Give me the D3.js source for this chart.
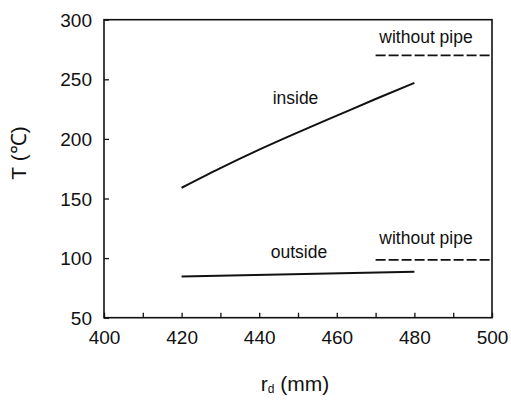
<!DOCTYPE html>
<html><head><meta charset="utf-8">
<script src="https://cdn.jsdelivr.net/npm/d3@7"></script>
<style>body{margin:0;background:#fff}svg{display:block}text{font-family:"Liberation Sans",Arial,sans-serif;fill:#111}</style>
</head><body><svg id="c" width="511" height="402"></svg>
<script>
const rdInside = [420, 430, 440, 450, 460, 470, 480];
const tInside = [159, 175.5, 191, 205.5, 219.5, 233.5, 247];
const rdOutside = [420, 480];
const tOutside = [84.5, 88.5];
const rdNoPipe = [470, 500];
const tNoPipeIn = [270, 270];
const tNoPipeOut = [98.5, 98.5];
const xTicks = [400, 420, 440, 460, 480, 500];
const xMinor = [410, 430, 450, 470, 490];
const yTicks = [50, 100, 150, 200, 250, 300];

const svg = d3.select("#c");
const x = d3.scaleLinear().domain([400, 500]).range([104, 492]);
const y = d3.scaleLinear().domain([50, 300]).range([317.7, 19.7]);
const g = svg.append("g");

// frame
g.append("rect").attr("x", x(400)).attr("y", y(300)).attr("width", x(500)-x(400)).attr("height", y(50)-y(300))
 .attr("fill","none").attr("stroke","#111").attr("stroke-width",1.6);

// x axis
const xa = g.append("g").attr("transform",`translate(0,${y(50)})`)
 .call(d3.axisBottom(x).tickValues(xMinor.concat(xTicks)).tickSizeInner(-5).tickSizeOuter(0).tickFormat(d => xTicks.includes(d) ? d : ""));
xa.select(".domain").remove();
xa.selectAll("line").attr("stroke","#111").attr("stroke-width",1.3);
xa.selectAll("text").attr("y",13).attr("dy","0.71em").style("font-size","19px").attr("fill","#111");

// y axis
const ya = g.append("g").attr("transform",`translate(${x(400)},0)`)
 .call(d3.axisLeft(y).tickValues(yTicks).tickSizeInner(-5).tickSizeOuter(0));
ya.select(".domain").remove();
ya.selectAll("line").attr("stroke","#111").attr("stroke-width",1.3);
ya.selectAll("text").attr("x",-12).attr("dy","0.35em").style("font-size","19px").attr("fill","#111");

const line = d3.line().x(d => x(d[0])).y(d => y(d[1]));
const smooth = d3.line().x(d => x(d[0])).y(d => y(d[1])).curve(d3.curveMonotoneX);
g.append("path").datum(d3.zip(rdInside, tInside)).attr("d", smooth).attr("fill","none").attr("stroke","#111").attr("stroke-width",2);
g.append("path").datum(d3.zip(rdOutside, tOutside)).attr("d", line).attr("fill","none").attr("stroke","#111").attr("stroke-width",2);
g.append("path").datum(d3.zip(rdNoPipe, tNoPipeIn)).attr("d", line).attr("fill","none").attr("stroke","#111").attr("stroke-width",1.8).attr("stroke-dasharray","10,3");
g.append("path").datum(d3.zip(rdNoPipe, tNoPipeOut)).attr("d", line).attr("fill","none").attr("stroke","#111").attr("stroke-width",1.6).attr("stroke-dasharray","10,3");

// labels
const lab = (t, px, py) => g.append("text").attr("x",px).attr("y",py).attr("text-anchor","middle").style("font-size","17.5px").text(t);
lab("inside", 295.5, 104);
lab("outside", 299, 258);
lab("without pipe", 426, 43);
lab("without pipe", 426, 244);

svg.append("text").attr("transform","translate(26,153) rotate(-90)").attr("text-anchor","middle").style("font-size","21px").text("T (℃)");
const xl = svg.append("text").attr("x",295).attr("y",391).attr("text-anchor","middle").style("font-size","21px");
xl.append("tspan").text("r");
xl.append("tspan").attr("dy",2).style("font-size","12px").text("d");
xl.append("tspan").attr("dy",-2).text(" (mm)");
</script></body></html>
